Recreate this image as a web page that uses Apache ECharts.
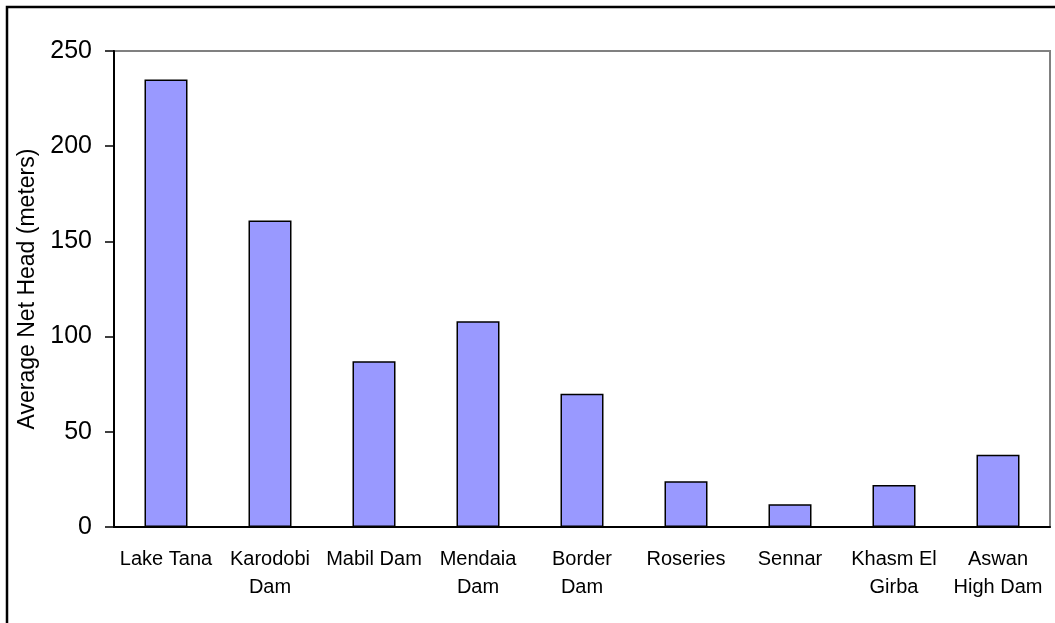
<!DOCTYPE html>
<html>
<head>
<meta charset="utf-8">
<script src="https://cdn.jsdelivr.net/npm/echarts@6/dist/echarts.min.js"></script>
<style>
  html, body { margin: 0; padding: 0; background: #fff; }
  #chart { width: 1055px; height: 623px; }
</style>
</head>
<body>
<div id="chart"></div>
<script>
// Dams along the Nile and their average net head
const damNames = ['Lake Tana', 'Karodobi\nDam', 'Mabil Dam', 'Mendaia\nDam', 'Border\nDam',
                  'Roseries', 'Sennar', 'Khasm El\nGirba', 'Aswan\nHigh Dam'];
const netHead = [235, 161, 87, 108, 70, 24, 12, 22, 38];
const yTicks = [0, 50, 100, 150, 200, 250];
const yTitle = 'Average Net Head (meters)';

const chart = echarts.init(document.getElementById('chart'), null, { renderer: 'canvas' });
const font = '"Liberation Sans", Arial, sans-serif';

chart.setOption({
  animation: false,
  backgroundColor: '#fff',
  graphic: [{
    type: 'rect',
    shape: { x: 7, y: 7, width: 1200, height: 800 },
    style: { fill: 'none', stroke: '#000', lineWidth: 2.5 },
    silent: true,
    z: 0
  }],
  grid: {
    left: 114, top: 51, right: 5, bottom: 96,
    show: true, borderColor: '#808080', borderWidth: 2, backgroundColor: 'transparent'
  },
  xAxis: {
    type: 'category',
    data: damNames,
    axisLine: { lineStyle: { color: '#000', width: 2 } },
    axisTick: { show: false },
    axisLabel: { color: '#000', fontFamily: font, fontSize: 20, lineHeight: 28, margin: 18, interval: 0 }
  },
  yAxis: {
    type: 'value',
    min: yTicks[0],
    max: yTicks[yTicks.length - 1],
    interval: 50,
    name: yTitle,
    nameLocation: 'middle',
    nameGap: 72,
    nameTextStyle: { color: '#000', fontFamily: font, fontSize: 23 },
    axisLine: { show: true, lineStyle: { color: '#000', width: 2 } },
    axisTick: { show: true, length: 9, lineStyle: { color: '#000', width: 1.5 } },
    axisLabel: { color: '#000', fontFamily: font, fontSize: 25, margin: 22 },
    splitLine: { show: false }
  },
  series: [{
    type: 'bar',
    data: netHead,
    barWidth: 43,
    itemStyle: { color: '#9999FF', borderColor: '#000', borderWidth: 1.5 }
  }]
});
</script>
</body>
</html>
